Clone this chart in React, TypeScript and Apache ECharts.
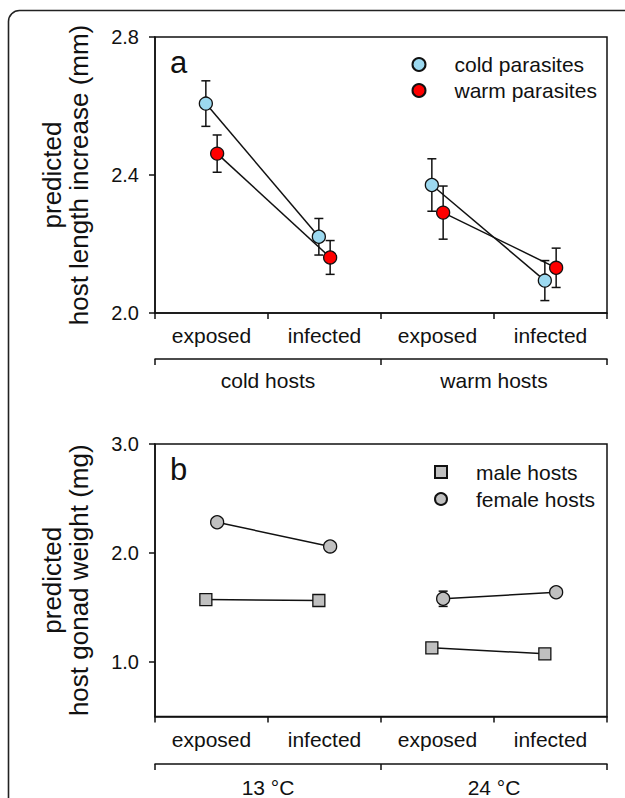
import React, { useEffect, useRef } from "react";
import * as echarts from "echarts";

// ---- data ----
const categories = ["exposed", "infected", "exposed", "infected"];
const hostGroupsA = ["cold hosts", "warm hosts"];
const hostGroupsB = ["13 °C", "24 °C"];

const yTicksA = [2.0, 2.4, 2.8];
const yTicksB = [1.0, 2.0, 3.0];

const coldParasiteMean = [2.607, 2.221, 2.371, 2.094];
const coldParasiteErr = [0.066, 0.053, 0.076, 0.058];
const warmParasiteMean = [2.462, 2.161, 2.291, 2.131];
const warmParasiteErr = [0.054, 0.049, 0.077, 0.057];

const maleMean = [1.573, 1.564, 1.13, 1.075];
const maleErr = [0.03, 0.03, 0.03, 0.03];
const femaleMean = [2.282, 2.06, 1.58, 1.64];
const femaleErr = [0.03, 0.03, 0.07, 0.03];

// ---- styling ----
const FONT = "Liberation Sans";
const DODGE = 0.05;
const INK = "#111";

function pos(i: number, dodge: number) {
  return i + 0.5 + dodge;
}

function pointSeries(
  name: string,
  means: number[],
  dodge: number,
  axisX: number,
  axisY: number,
  symbol: string,
  color: string
) {
  const out: any[] = [];
  for (let g = 0; g < 2; g++) {
    const data = [0, 1].map((c) => {
      const i = g * 2 + c;
      return [pos(i, dodge), means[i]];
    });
    out.push({
      type: "line",
      name,
      xAxisIndex: axisX,
      yAxisIndex: axisY,
      data,
      symbol,
      symbolSize: symbol === "rect" ? 12 : 13,
      showSymbol: true,
      lineStyle: { color: INK, width: 1.5 },
      itemStyle: { color, borderColor: INK, borderWidth: 1.3, opacity: 1 },
      z: 3,
      emphasis: { disabled: true },
    });
  }
  return out;
}

function errorSeries(
  means: number[],
  errs: number[],
  dodge: number,
  axisX: number,
  axisY: number
) {
  return {
    type: "custom",
    xAxisIndex: axisX,
    yAxisIndex: axisY,
    z: 2,
    silent: true,
    encode: { x: 0, y: [1, 2] },
    data: means.map((m, i) => [pos(i, dodge), m - errs[i], m + errs[i]]),
    renderItem: (_params: any, api: any) => {
      const x = api.value(0);
      const lo = api.coord([x, api.value(1)]);
      const hi = api.coord([x, api.value(2)]);
      const w = 4.5;
      const st = { stroke: INK, lineWidth: 1.5 };
      return {
        type: "group",
        children: [
          { type: "line", shape: { x1: lo[0], y1: lo[1], x2: hi[0], y2: hi[1] }, style: st },
          { type: "line", shape: { x1: lo[0] - w, y1: lo[1], x2: lo[0] + w, y2: lo[1] }, style: st },
          { type: "line", shape: { x1: hi[0] - w, y1: hi[1], x2: hi[0] + w, y2: hi[1] }, style: st },
        ],
      };
    },
  };
}

function xAxesFor(gridIndex: number, groups: string[], groupOffset: number, groupMargin: number) {
  const line = { lineStyle: { color: INK, width: 1.5 } };
  return [
    {
      type: "value",
      gridIndex,
      min: 0,
      max: 4,
      interval: 1,
      position: "bottom",
      axisLine: { show: true, ...line },
      axisTick: { show: true, length: 6, inside: false, ...line },
      axisLabel: { show: false },
      splitLine: { show: false },
    },
    {
      type: "category",
      gridIndex,
      data: categories,
      position: "bottom",
      boundaryGap: true,
      axisLine: { show: false },
      axisTick: { show: false },
      axisLabel: { show: true, margin: 12, fontSize: 21, color: INK, fontFamily: FONT },
      splitLine: { show: false },
    },
    {
      type: "category",
      gridIndex,
      data: groups,
      position: "bottom",
      offset: groupOffset,
      boundaryGap: true,
      axisLine: { show: true, ...line },
      axisTick: { show: true, length: 6, inside: false, alignWithLabel: false, ...line },
      axisLabel: { show: true, margin: groupMargin, fontSize: 21, color: INK, fontFamily: FONT },
      splitLine: { show: false },
    },
  ];
}

function yAxisFor(gridIndex: number, min: number, max: number, ticks: number[], name: string) {
  const line = { lineStyle: { color: INK, width: 1.5 } };
  return {
    type: "value",
    gridIndex,
    min,
    max,
    name,
    nameLocation: "middle",
    nameRotate: 90,
    nameGap: 62.5,
    nameTextStyle: { fontSize: 26, lineHeight: 27, color: INK, fontFamily: FONT, align: "center" },
    axisLine: { show: true, ...line },
    axisTick: { show: true, length: 6, inside: false, customValues: ticks, ...line },
    axisLabel: {
      show: true,
      customValues: ticks,
      margin: 16,
      fontSize: 20,
      color: INK,
      fontFamily: FONT,
      formatter: (v: number) => v.toFixed(1),
    },
    splitLine: { show: false },
  };
}

export default function App() {
  const ref = useRef<HTMLDivElement>(null);
  useEffect(() => {
    if (!ref.current) return;
    const chart = echarts.init(ref.current, null, { renderer: "svg" });
    const legendText = { fontSize: 21, color: INK, fontFamily: FONT, lineHeight: 21, padding: [0, 0, 0, 24] };
    const option: any = {
      animation: false,
      backgroundColor: "#fff",
      textStyle: { fontFamily: FONT },
      grid: [
        { left: 155, top: 37, width: 452, height: 276, show: true, borderColor: INK, borderWidth: 1.5, backgroundColor: "transparent" },
        { left: 155, top: 444, width: 452, height: 276.5, show: true, borderColor: INK, borderWidth: 1.5, backgroundColor: "transparent" },
      ],
      xAxis: [...xAxesFor(0, hostGroupsA, 46, 11), ...xAxesFor(1, hostGroupsB, 47.5, 13)],
      yAxis: [
        yAxisFor(0, 2.0, 2.8, yTicksA, "predicted\nhost length increase (mm)"),
        yAxisFor(1, 0.5, 3.0, yTicksB, "predicted\nhost gonad weight (mg)"),
      ],
      legend: [
        {
          orient: "vertical",
          left: 406.5,
          top: 49,
          itemWidth: 13,
          itemHeight: 13,
          itemGap: 5,
          selectedMode: false,
          textStyle: legendText,
          data: [
            { name: "cold parasites", icon: "circle" },
            { name: "warm parasites", icon: "circle" },
          ],
        },
        {
          orient: "vertical",
          left: 429,
          top: 456.5,
          itemWidth: 12,
          itemHeight: 12,
          itemGap: 6,
          selectedMode: false,
          textStyle: legendText,
          data: [
            { name: "male hosts", icon: "rect" },
            { name: "female hosts", icon: "circle" },
          ],
        },
      ],
      graphic: [
        {
          type: "rect",
          shape: { x: 8.5, y: 10.5, width: 700, height: 900, r: 11 },
          style: { fill: "none", stroke: "#222", lineWidth: 1.6 },
          silent: true,
        },
        {
          type: "text",
          style: { text: "a", x: 170, y: 62, fontSize: 31, fontFamily: FONT, fill: INK, verticalAlign: "middle" },
        },
        {
          type: "text",
          style: { text: "b", x: 170, y: 469.5, fontSize: 31, fontFamily: FONT, fill: INK, verticalAlign: "middle" },
        },
      ],
      series: [
        errorSeries(coldParasiteMean, coldParasiteErr, -DODGE, 0, 0),
        errorSeries(warmParasiteMean, warmParasiteErr, DODGE, 0, 0),
        ...pointSeries("cold parasites", coldParasiteMean, -DODGE, 0, 0, "circle", "#9cd9f0"),
        ...pointSeries("warm parasites", warmParasiteMean, DODGE, 0, 0, "circle", "#ff0000"),
        errorSeries(maleMean, maleErr, -DODGE, 3, 1),
        errorSeries(femaleMean, femaleErr, DODGE, 3, 1),
        ...pointSeries("male hosts", maleMean, -DODGE, 3, 1, "rect", "#c0c0c0"),
        ...pointSeries("female hosts", femaleMean, DODGE, 3, 1, "circle", "#c0c0c0"),
      ],
    };
    chart.setOption(option);
    return () => chart.dispose();
  }, []);
  return (
    <div
      ref={ref}
      style={{ position: "fixed", left: 0, top: 0, width: 625, height: 798, background: "#fff" }}
    />
  );
}
